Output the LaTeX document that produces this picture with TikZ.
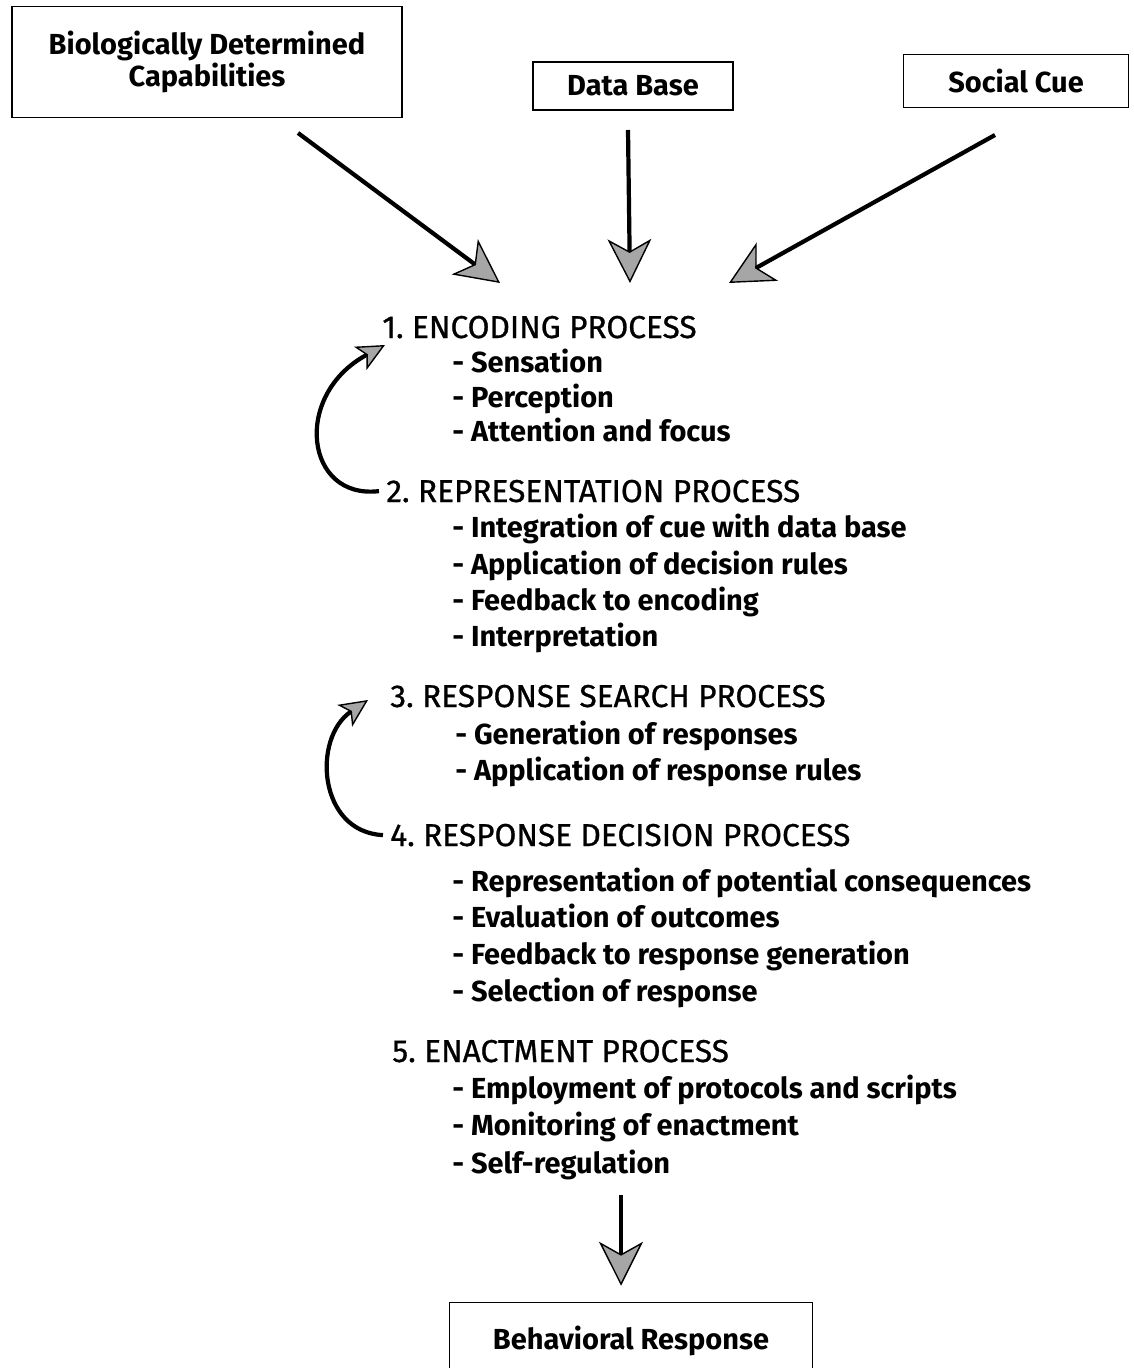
\documentclass[tikz,border=0pt]{standalone}
\usepackage{fontspec}
\setmainfont{Fira Sans}
\usetikzlibrary{arrows.meta,positioning}

\begin{document}
\begin{tikzpicture}[
  x=0.02cm, y=-0.02cm,
  box/.style={rectangle, draw, line width=0.9pt, align=center, font=\bfseries\fontsize{16.5}{18}\selectfont},
  head/.style={anchor=base west, inner sep=0pt, font=\fontsize{18}{21}\selectfont\addfontfeature{FakeBold=0.8}},
  item/.style={anchor=base west, inner sep=0pt, font=\bfseries\fontsize{16.5}{19}\selectfont},
  flow/.style={line width=2.4pt, -{Stealth[length=25pt, width=25pt, inset=7pt, fill=gray!70, line width=0.8pt]}},
  fb/.style={line width=2.4pt, -{Stealth[length=16pt, width=15pt, inset=4pt, fill=gray!70, line width=0.8pt]}},
]
  \useasboundingbox (0,0) rectangle (1133,1368);

  % inputs
  \node[box, minimum width=7.8cm, minimum height=2.22cm] (bio) at (207,62) {Biologically Determined\\Capabilities};
  \node[box, minimum width=4cm, minimum height=0.96cm] (data) at (633,86) {Data Base};
  \node[box, minimum width=4.5cm, minimum height=1.06cm] (cue) at (1016,81) {Social Cue};

  \coordinate (biotail) at (298,133);
  \coordinate (datatail) at (628,130);
  \coordinate (cuetail) at (995,135);
  \coordinate (bioend) at (500,283);
  \coordinate (dataend) at (630,283);
  \coordinate (cueend) at (729,283);

  % processes
  \node[head] (enc) at (382,338) {1.\ ENCODING PROCESS};
  \node[item] (enc1) at (452,372) {- Sensation};
  \node[item] (enc2) at (452,407) {- Perception};
  \node[item] (enc3) at (452,441) {- Attention and focus};

  \node[head] (rep) at (386,502) {2.\ REPRESENTATION PROCESS};
  \node[item] (rep1) at (452,537) {- Integration of cue with data base};
  \node[item] (rep2) at (452,574) {- Application of decision rules};
  \node[item] (rep3) at (452,610) {- Feedback to encoding};
  \node[item] (rep4) at (452,646) {- Interpretation};

  \node[head] (search) at (390,707) {3.\ RESPONSE SEARCH PROCESS};
  \node[item] (search1) at (455,744) {- Generation of responses};
  \node[item] (search2) at (455,780) {- Application of response rules};

  \node[head] (dec) at (390,846) {4.\ RESPONSE DECISION PROCESS};
  \node[item] (dec1) at (452,891) {- Representation of potential consequences};
  \node[item] (dec2) at (452,927) {- Evaluation of outcomes};
  \node[item] (dec3) at (452,964) {- Feedback to response generation};
  \node[item] (dec4) at (452,1001) {- Selection of response};

  \node[head] (act) at (392,1062) {5.\ ENACTMENT PROCESS};
  \node[item] (act1) at (452,1098) {- Employment of protocols and scripts};
  \node[item] (act2) at (452,1135) {- Monitoring of enactment};
  \node[item] (act3) at (452,1173) {- Self-regulation};

  \node[box, minimum width=7.26cm, minimum height=1.54cm] (resp) at (631,1341) {Behavioral Response};
  \coordinate (acttail) at (621,1195);

  \coordinate (enctip) at (385,345);
  \coordinate (searchtip) at (368,700);

  % arrows
  \draw[flow] (biotail) -- (bioend);
  \draw[flow] (datatail) -- (dataend);
  \draw[flow] (cuetail) -- (cueend);
  \draw[flow, shorten >=0.32cm] (acttail) -- (acttail |- resp.north);

  \draw[fb] ([xshift=-4pt]rep.west) .. controls (305,500) and (292,395) .. (enctip);
  \draw[fb] ([xshift=-4pt]dec.west) .. controls (318,832) and (312,738) .. (searchtip);
\end{tikzpicture}
\end{document}
